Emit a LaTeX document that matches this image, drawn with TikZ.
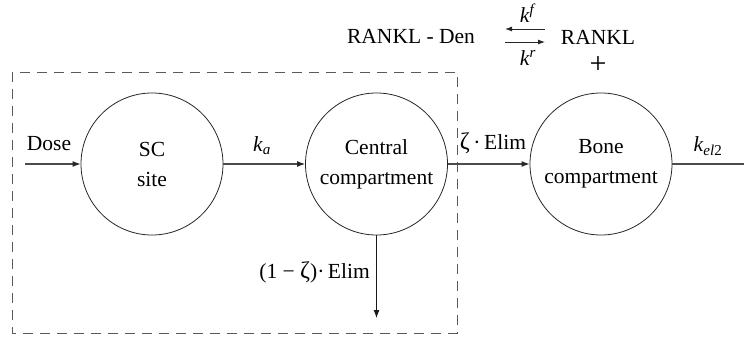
\documentclass[tikz,border=0pt]{standalone}
\usepackage{fontspec}
\setmainfont{Liberation Serif}
\usetikzlibrary{arrows.meta}
\begin{document}
\begin{tikzpicture}[x=1pt,y=-1pt,
  every node/.style={font=\fontsize{21.5}{30}\selectfont},
  comp/.style={circle,draw=black!85,line width=0.8pt,minimum size=142pt,inner sep=0pt,align=center},
  flow/.style={draw=black!70,line width=1.2pt,-{Latex[length=8pt,width=6pt,color=black!85]}},
  rx/.style={draw=black!85,line width=0.9pt,-{Latex[length=7pt,width=5pt]}},
  lbl/.style={inner sep=0pt}]
\useasboundingbox (0,0) rectangle (744,342);
% dashed frame
\draw[black!65,line width=0.9pt,dash pattern=on 10pt off 7pt] (12,72) rectangle (457,333);
% compartments
\node[comp] (sc) at (152,164) {SC\\site};
\node[comp] (cen) at (376.5,164) {Central\\compartment};
\node[comp] (bone) at (601,164) {Bone\\compartment};
% free ends
\coordinate (dosein) at (25,164);
\coordinate (outend) at (744,164);
\coordinate (elimend) at (376.5,318);
% connectors
\draw[flow] (dosein) -- (sc.west);
\draw[flow] (sc.east) -- (cen.west);
\draw[flow] (cen.east) -- (bone.west);
\draw[draw=black!70,line width=1.2pt] (bone.east) -- (outend);
\draw[draw=black!90,line width=0.9pt,-{Latex[length=8pt,width=6pt]}] (cen.south) -- (elimend);
% labels
\node[lbl] (ldose) at (49,144) {Dose};
\node[lbl] (lka) at (262,146) {\textit{k}\textsubscript{\textit{a}}};
\node[lbl] (lzeta) at (493,143) {{\fontsize{24}{30}\selectfont ζ}\,·\,Elim};
\node[lbl] (lkel) at (708,146) {\textit{k}\textsubscript{\textit{el}2}};
\node[lbl,anchor=east] (lone) at (370,272) {(1 − {\fontsize{24}{30}\selectfont ζ})·\,Elim};
% reaction
\node[lbl] (rd) at (411,37) {RANKL - Den};
\node[lbl] (rk) at (598,37) {RANKL};
\node[lbl,font=\fontsize{30}{30}\selectfont] (plus) at (598,65) {+};
\coordinate (a1) at (545,29);
\coordinate (a2) at (505,29);
\coordinate (b1) at (505,42);
\coordinate (b2) at (545,42);
\draw[rx] (a1) -- (a2);
\draw[rx] (b1) -- (b2);
\node[lbl] (kf) at (528,13) {\textit{k}\textsuperscript{\textit{f}}};
\node[lbl] (kr) at (528,58) {\textit{k}\textsuperscript{\textit{r}}};
\end{tikzpicture}
\end{document}
